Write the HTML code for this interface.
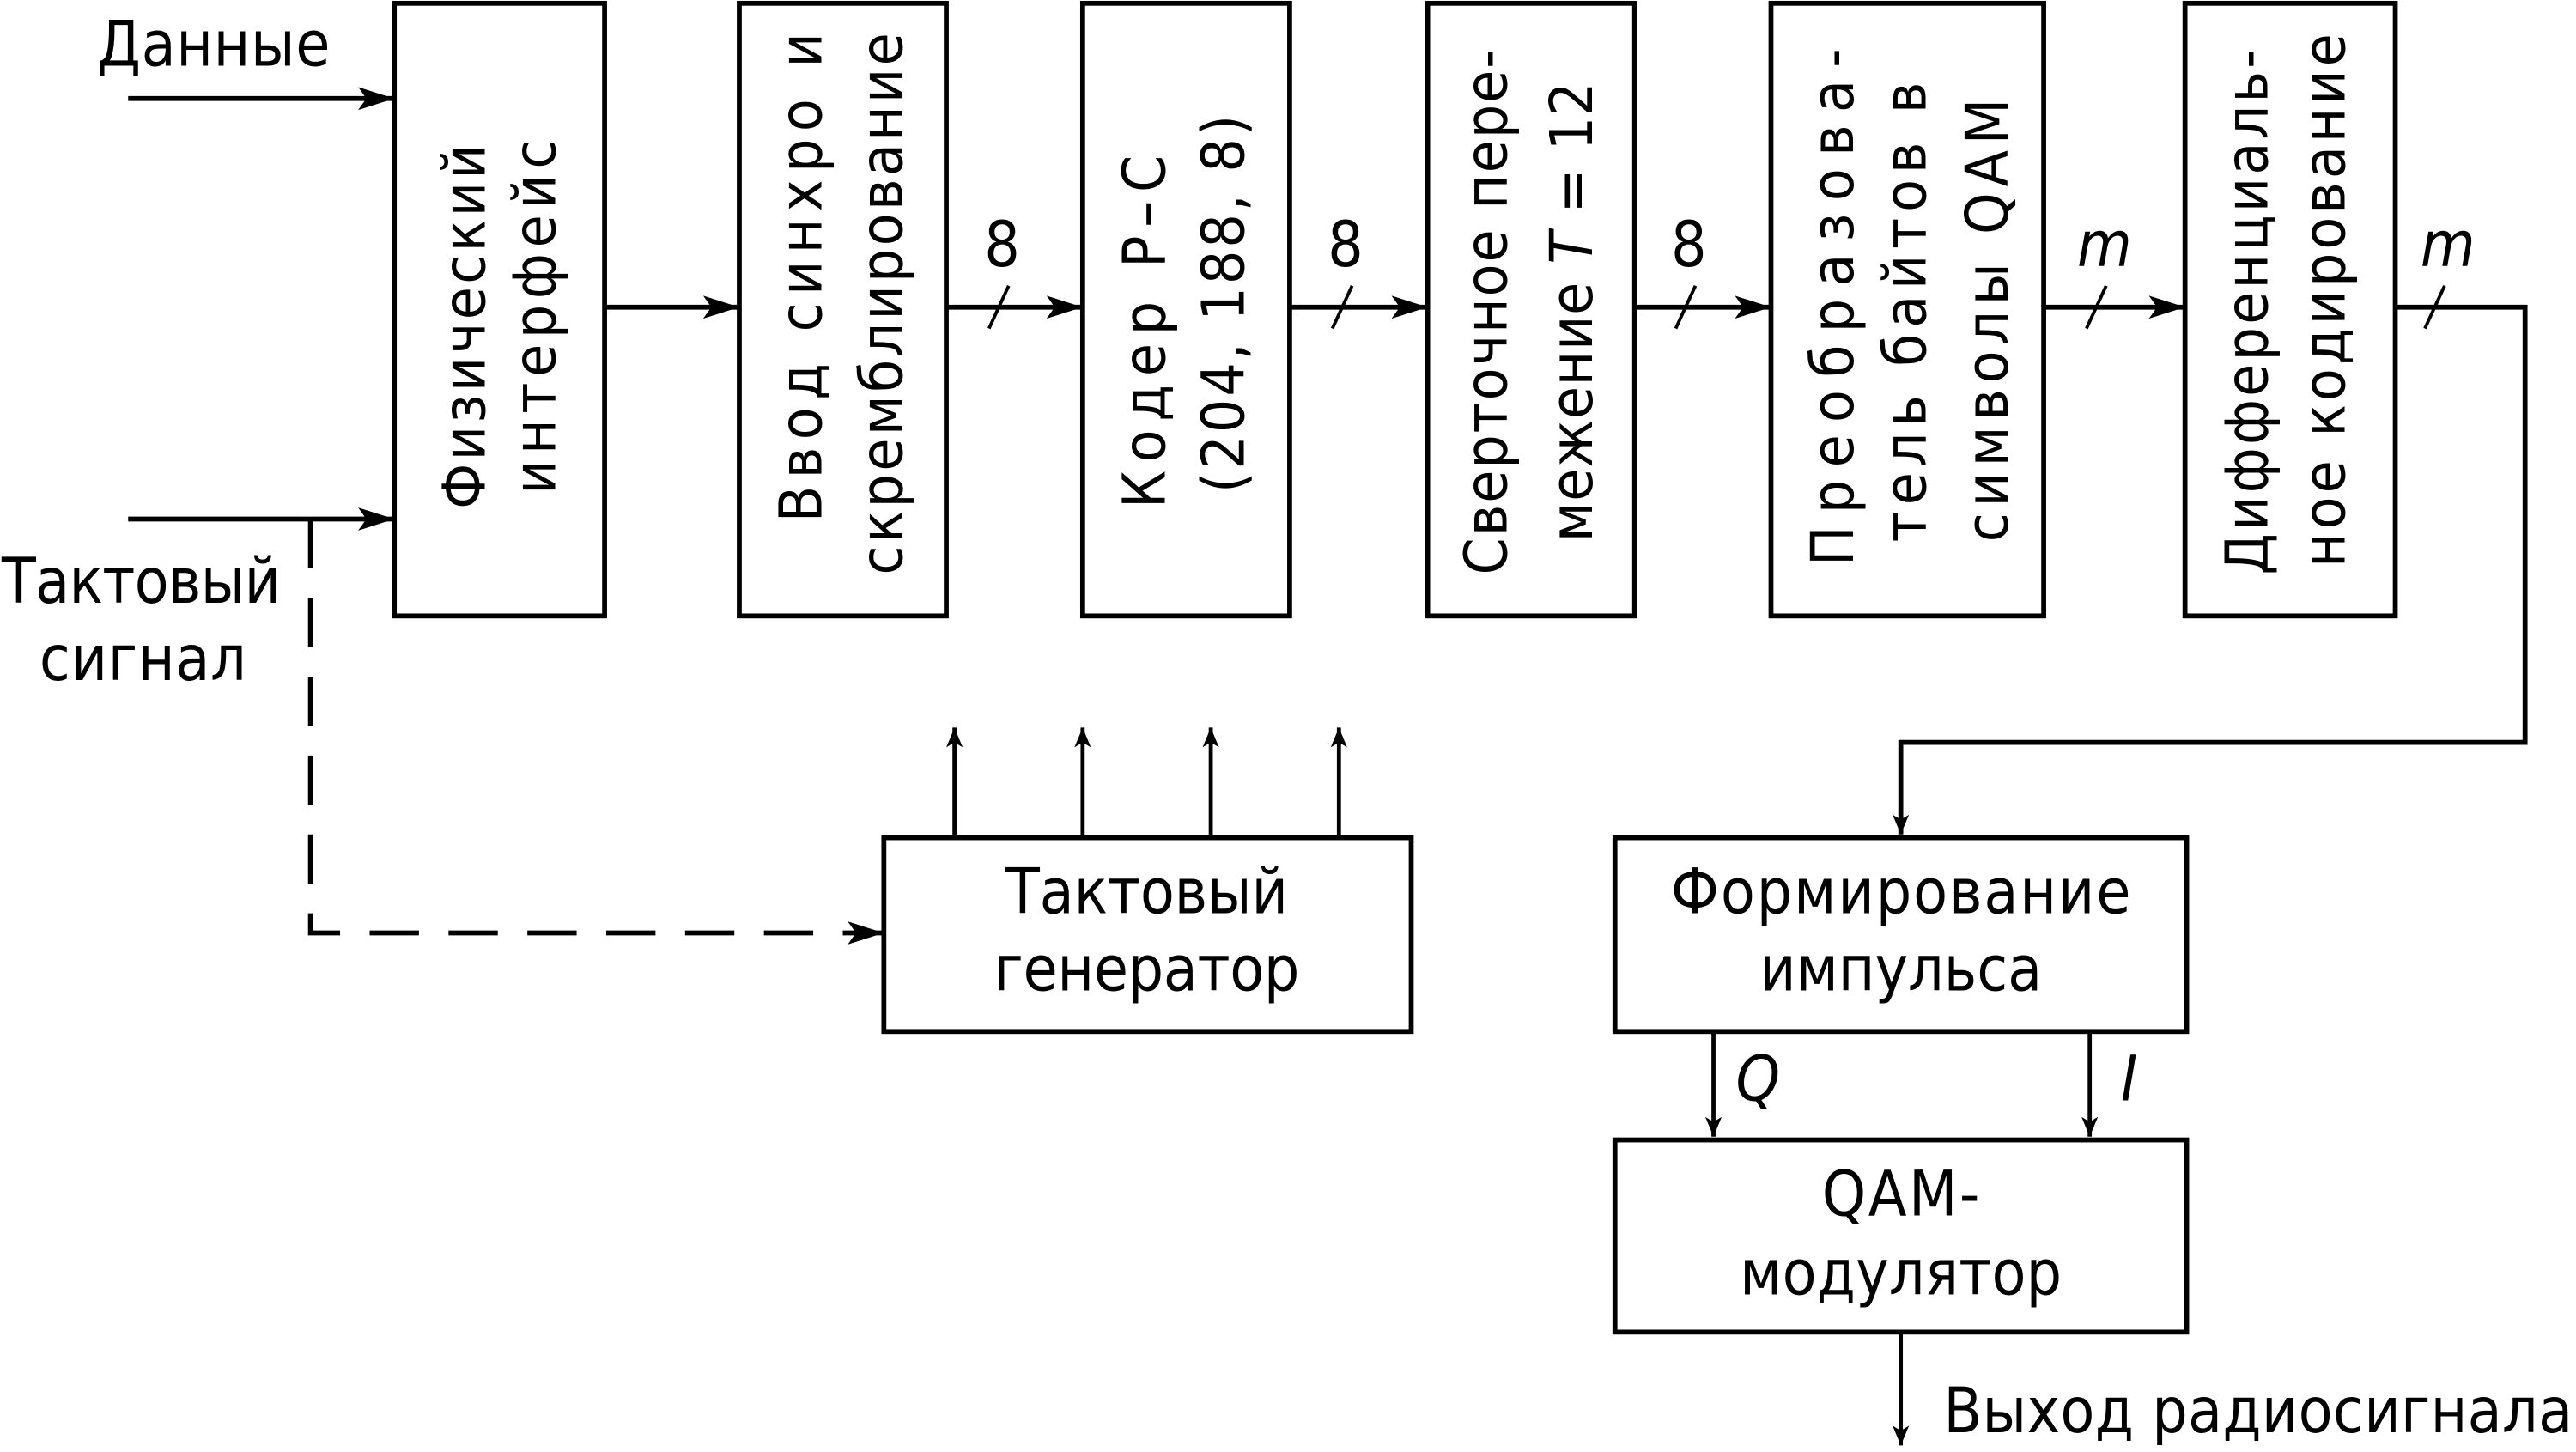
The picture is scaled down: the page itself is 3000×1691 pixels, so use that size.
<!DOCTYPE html>
<html><head><meta charset="utf-8"><style>
html,body{margin:0;padding:0;background:#fff;}
svg{display:block;}
text{font-family:"DejaVu Sans Condensed","DejaVu Sans","Liberation Sans",sans-serif;fill:#000;}
.r{font-size:36px;}
.c{font-family:"Liberation Sans Narrow","DejaVu Sans Condensed",sans-serif;font-size:38px;}
</style></head><body>
<svg width="3000" height="1691" viewBox="0 0 1568 884" preserveAspectRatio="none" xmlns="http://www.w3.org/2000/svg">
<defs>
<marker id="a" markerWidth="12" markerHeight="10" refX="12" refY="5" orient="auto" markerUnits="userSpaceOnUse">
<path d="M0,0 L12,5 L0,10 L3,5 Z" fill="#000"/></marker>
<marker id="b" markerWidth="22" markerHeight="14" refX="22" refY="7" orient="auto" markerUnits="userSpaceOnUse">
<path d="M0,0 L22,7 L0,14 L5,7 Z" fill="#000"/></marker>
</defs>
<g fill="none" stroke="#000" stroke-width="3">
<rect x="240" y="2" width="128" height="373"/>
<rect x="450" y="2" width="126" height="373"/>
<rect x="659" y="2" width="126" height="373"/>
<rect x="869" y="2" width="126" height="373"/>
<rect x="1078" y="2" width="166" height="373"/>
<rect x="1330" y="2" width="128" height="373"/>
<rect x="538" y="510" width="321" height="118"/>
<rect x="983" y="510" width="348" height="118"/>
<rect x="983" y="694" width="348" height="117"/>
<line x1="78" y1="60" x2="240" y2="60" marker-end="url(#b)"/>
<line x1="78" y1="316" x2="240" y2="316" marker-end="url(#b)"/>
<line x1="368" y1="187" x2="450" y2="187" marker-end="url(#b)"/>
<line x1="576" y1="187" x2="659" y2="187" marker-end="url(#b)"/>
<line x1="785" y1="187" x2="869" y2="187" marker-end="url(#b)"/>
<line x1="995" y1="187" x2="1078" y2="187" marker-end="url(#b)"/>
<line x1="1244" y1="187" x2="1330" y2="187" marker-end="url(#b)"/>
<polyline points="1458,187 1537,187 1537,452 1157,452 1157,508" stroke-width="3" marker-end="url(#a)"/>
<g stroke-width="2">
<line x1="602" y1="200" x2="614" y2="174"/>
<line x1="811" y1="200" x2="823" y2="174"/>
<line x1="1020" y1="200" x2="1032" y2="174"/>
<line x1="1270" y1="200" x2="1282" y2="174"/>
<line x1="1476" y1="200" x2="1488" y2="174"/>
</g>
<path d="M189,316 V568 H538" stroke-dasharray="30,18" marker-end="url(#b)"/>
<g stroke-width="2.5">
<line x1="581" y1="510" x2="581" y2="443" marker-end="url(#a)"/>
<line x1="659" y1="510" x2="659" y2="443" marker-end="url(#a)"/>
<line x1="737" y1="510" x2="737" y2="443" marker-end="url(#a)"/>
<line x1="815" y1="510" x2="815" y2="443" marker-end="url(#a)"/>
<line x1="1043" y1="628" x2="1043" y2="692" marker-end="url(#a)"/>
<line x1="1272" y1="628" x2="1272" y2="692" marker-end="url(#a)"/>
<line x1="1157" y1="811" x2="1157" y2="880" marker-end="url(#a)"/>
</g>
</g>
<g class="c">
<text x="130" y="40" text-anchor="middle" textLength="142">Данные</text>
<text x="86" y="367" text-anchor="middle" textLength="170">Тактовый</text>
<text x="87" y="414" text-anchor="middle" textLength="126">сигнал</text>
<text x="698" y="556" text-anchor="middle" textLength="172">Тактовый</text>
<text x="698" y="603" text-anchor="middle" textLength="186">генератор</text>
<text x="1157" y="556" text-anchor="middle" textLength="280">Формирование</text>
<text x="1157" y="603" text-anchor="middle" textLength="172">импульса</text>
<text x="1157" y="740" text-anchor="middle" textLength="96">QAM-</text>
<text x="1157" y="788" text-anchor="middle" textLength="196">модулятор</text>
<text x="1183" y="872" textLength="383">Выход радиосигнала</text>
<text x="1070" y="670" text-anchor="middle" font-style="italic">Q</text>
<text x="1296" y="670" text-anchor="middle" font-style="italic">I</text>
<text x="610" y="162" text-anchor="middle">8</text>
<text x="819" y="162" text-anchor="middle">8</text>
<text x="1028" y="162" text-anchor="middle">8</text>
<text x="1281" y="162" text-anchor="middle" font-style="italic">m</text>
<text x="1490" y="162" text-anchor="middle" font-style="italic">m</text>
</g>
<g class="r" dominant-baseline="central" text-anchor="middle">
<text transform="translate(283,199) rotate(-90)" textLength="222">Физический</text>
<text transform="translate(326,193) rotate(-90)" textLength="216">интерфейс</text>
<text transform="translate(488,169) rotate(-90)" textLength="298">Ввод синхро и</text>
<text transform="translate(537,185) rotate(-90)" textLength="330">скремблирование</text>
<text transform="translate(697,202) rotate(-90)" textLength="215">Кодер Р–С</text>
<text transform="translate(745,185) rotate(-90)" textLength="230">(204, 188, 8)</text>
<text transform="translate(905,190) rotate(-90)" textLength="320">Сверточное пере-</text>
<text transform="translate(957,190) rotate(-90)" textLength="280">межение <tspan font-style="italic">T</tspan> = 12</text>
<text transform="translate(1116,187) rotate(-90)" textLength="315">Преобразова-</text>
<text transform="translate(1160,190) rotate(-90)" textLength="280">тель байтов в</text>
<text transform="translate(1210,195) rotate(-90)" textLength="270">символы QAM</text>
<text transform="translate(1368,190) rotate(-90)" textLength="320">Дифференциаль-</text>
<text transform="translate(1415,183) rotate(-90)" textLength="325">ное кодирование</text>
</g>
</svg>
</body></html>
